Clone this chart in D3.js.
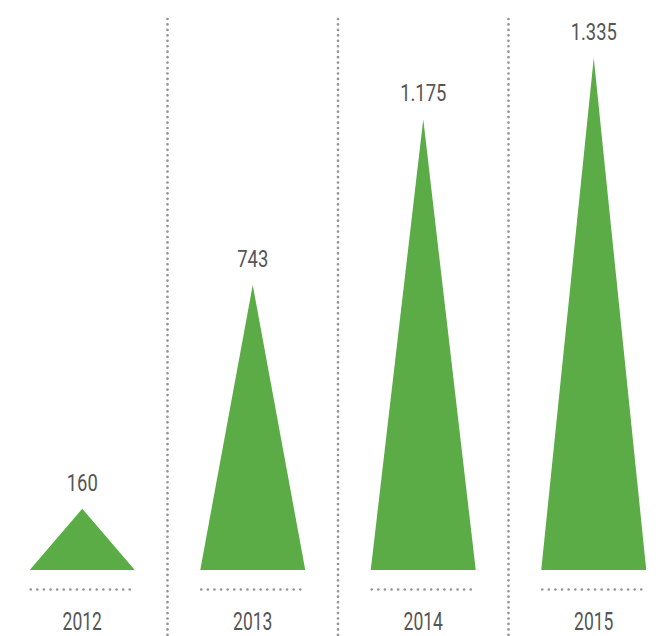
<!DOCTYPE html>
<html lang="en">
<head>
<meta charset="UTF-8">
<title>Triangle chart</title>
<script src="https://d3js.org/d3.v7.min.js"></script>
<style>
  html, body { margin: 0; padding: 0; background: #fff; }
  svg { display: block; }
  .label { font-family: Roboto, "Liberation Sans", sans-serif; fill: #555; }
</style>
</head>
<body>
<div id="chart"></div>
<script>
  const years = ['2012', '2013', '2014', '2015'];
  const values = [160, 743, 1175, 1335];
  const valueLabels = ['160', '743', '1.175', '1.335'];

  const width = 662, height = 636;
  const baseY = 570;

  const svg = d3.select('#chart').append('svg')
    .attr('width', width)
    .attr('height', height);

  const x = d3.scaleBand()
    .domain(years)
    .range([-3, 679])
    .padding(0);

  const y = d3.scaleLinear()
    .domain([0, 1335])
    .range([baseY, 58]);

  const half = 52.5;
  const cx = d => x(d) + x.bandwidth() / 2;

  // vertical dotted separators between columns
  svg.selectAll('.sep')
    .data(years.slice(1))
    .enter()
    .append('line')
    .attr('x1', d => x(d))
    .attr('x2', d => x(d))
    .attr('y1', 19)
    .attr('y2', height)
    .attr('stroke', '#959595')
    .attr('stroke-width', 2.7)
    .attr('stroke-linecap', 'round')
    .attr('stroke-dasharray', '0,5.45');

  // triangles
  svg.selectAll('.tri')
    .data(years)
    .enter()
    .append('path')
    .attr('fill', '#5bab47')
    .attr('d', (d, i) => {
      const c = cx(d);
      return `M${c - half},${baseY}L${c},${y(values[i])}L${c + half},${baseY}Z`;
    });

  // dotted base lines
  svg.selectAll('.base')
    .data(years)
    .enter()
    .append('line')
    .attr('x1', d => cx(d) - half + 1)
    .attr('x2', d => cx(d) + half + 1)
    .attr('y1', 589.5)
    .attr('y2', 589.5)
    .attr('stroke', '#959595')
    .attr('stroke-width', 2.7)
    .attr('stroke-linecap', 'round')
    .attr('stroke-dasharray', '0,6.6');

  // value labels
  svg.selectAll('.val')
    .data(years)
    .enter()
    .append('text')
    .attr('class', 'label')
    .attr('text-anchor', 'middle')
    .attr('font-size', 23)
    .attr('transform', (d, i) => `translate(${cx(d)},${y(values[i]) - 18}) scale(0.8,1)`)
    .text((d, i) => valueLabels[i]);

  // year labels
  svg.selectAll('.year')
    .data(years)
    .enter()
    .append('text')
    .attr('class', 'label')
    .attr('text-anchor', 'middle')
    .attr('font-size', 26.5)
    .attr('transform', d => `translate(${cx(d)},630) scale(0.66,1)`)
    .text(d => d);
</script>
</body>
</html>
